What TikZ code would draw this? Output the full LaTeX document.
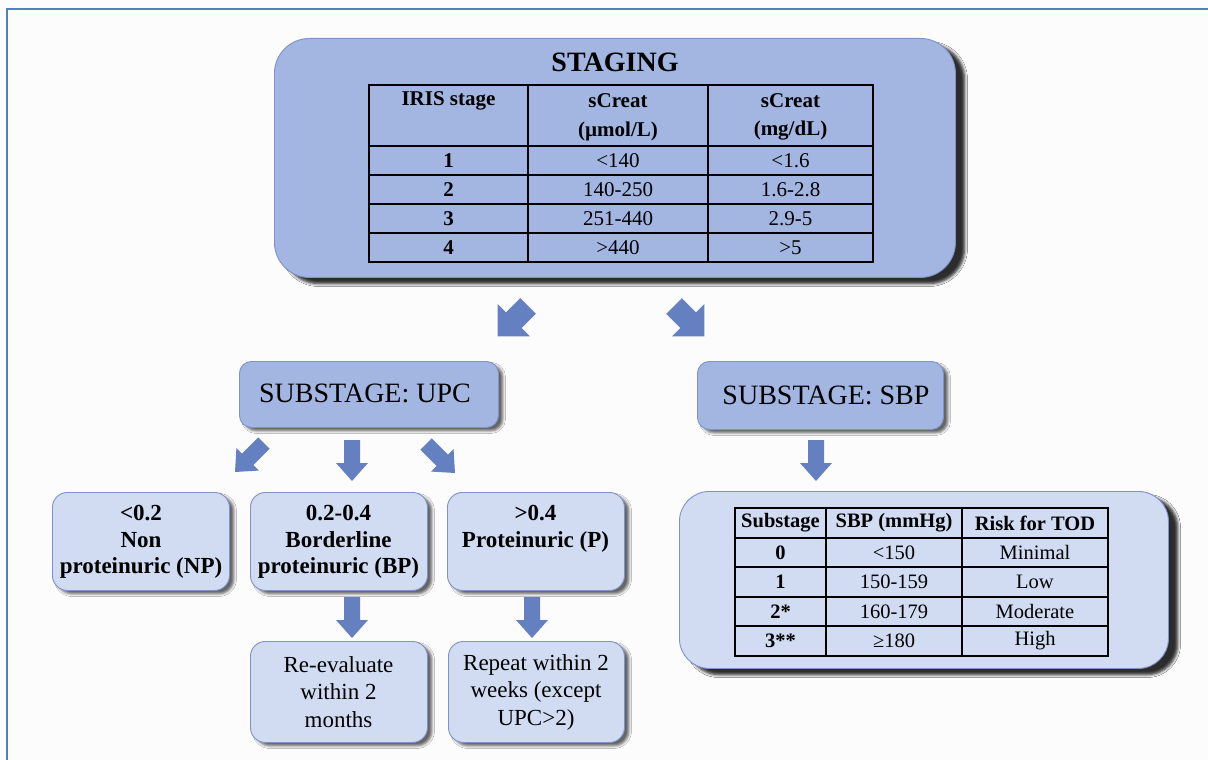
\documentclass[tikz,border=0pt]{standalone}
\usepackage{fontspec}
\setmainfont{Liberation Serif}
\usetikzlibrary{shadows.blur}

\definecolor{stagefill}{HTML}{A3B5E1}
\definecolor{lightfill}{HTML}{D1DCF3}
\definecolor{boxline}{HTML}{7D93C9}
\definecolor{arrowfill}{HTML}{6580C1}
\definecolor{framecol}{HTML}{4F81BD}
\definecolor{pagebg}{HTML}{FCFCFC}

\newcommand{\fsz}[2]{\fontsize{#1}{#2}\selectfont}

\tikzset{
  softshadow/.style={blur shadow={shadow xshift=4.5pt, shadow yshift=-3.5pt,
      shadow blur radius=2.5pt, shadow opacity=60}},
  bigshadow/.style={blur shadow={shadow xshift=9pt, shadow yshift=-6pt,
      shadow blur radius=3pt, shadow opacity=58}},
  darkbox/.style={draw=boxline, line width=0.9pt, fill=stagefill, softshadow,
      anchor=north west, inner sep=0pt},
  lightbox/.style={draw=boxline, line width=0.9pt, fill=lightfill, softshadow,
      anchor=north west, inner sep=0pt},
  gridline/.style={line width=1.8pt, black},
  cellA/.style={inner sep=0pt, font=\fsz{21}{25}},
  cellAb/.style={inner sep=0pt, font=\fsz{21}{25}\bfseries},
  cellB/.style={inner sep=0pt, font=\fsz{20.5}{24}},
  cellBb/.style={inner sep=0pt, font=\fsz{20.5}{24}\bfseries},
  boxtext/.style={inner sep=0pt, align=center, font=\fsz{23}{27.5}},
  boxtextb/.style={inner sep=0pt, align=center, font=\fsz{23}{26.5}\bfseries},
  headtext/.style={inner sep=0pt, font=\fsz{28}{32}},
  thin arrow/.pic={\fill[arrowfill] (0,-8) -- (23,-8) -- (23,-16) -- (41,0)
      -- (23,16) -- (23,8) -- (0,8) -- cycle;},
  thick arrow/.pic={\fill[arrowfill] (0,-11) -- (20,-11) -- (20,-23) -- (43,0)
      -- (20,23) -- (20,11) -- (0,11) -- cycle;}
}

\begin{document}
\begin{tikzpicture}[x=1pt, y=-1pt]
\useasboundingbox (0,0) rectangle (1208,760);
\fill[pagebg] (0,0) rectangle (1208,760);
\draw[framecol, line width=2.2pt] (7,760) -- (7,9) -- (1208,9);

% ---------- staging ----------
\node[darkbox, bigshadow, rounded corners=35pt, minimum width=681pt, minimum height=239pt]
  (staging) at (274,38) {};
\node[headtext, font=\fsz{28}{32}\bfseries] (stagingtitle) at (615,62) {STAGING};

\draw[gridline] (369,85) rectangle (873,262);
\draw[gridline] (528,85) -- (528,262) (708,85) -- (708,262);
\foreach \yy in {146,175,204,233} \draw[gridline] (369,\yy) -- (873,\yy);

\node[cellAb] (hA) at (448.5,101) {IRIS stage};
\node[cellAb] (hB) at (618,101) {sCreat};
\node[cellAb] (hBu) at (618,131) {(µmol/L)};
\node[cellAb] (hC) at (790.5,101) {sCreat};
\node[cellAb] (hCu) at (790.5,131) {(mg/dL)};

\node[cellAb] (s1) at (448.5,160.5) {1};
\node[cellA] (s1a) at (618,160.5) {<140};
\node[cellA] (s1b) at (790.5,160.5) {<1.6};
\node[cellAb] (s2) at (448.5,189.5) {2};
\node[cellA] (s2a) at (618,189.5) {140-250};
\node[cellA] (s2b) at (790.5,189.5) {1.6-2.8};
\node[cellAb] (s3) at (448.5,218.5) {3};
\node[cellA] (s3a) at (618,218.5) {251-440};
\node[cellA] (s3b) at (790.5,218.5) {2.9-5};
\node[cellAb] (s4) at (448.5,247.5) {4};
\node[cellA] (s4a) at (618,247.5) {>440};
\node[cellA] (s4b) at (790.5,247.5) {>5};

\pic[rotate=-135] at (528,306) {thick arrow};
\pic[rotate=-45] at (674,306) {thick arrow};

% ---------- substages ----------
\node[darkbox, rounded corners=12pt, minimum width=259pt, minimum height=66pt]
  (upc) at (239,361) {};
\node[headtext] (upctext) at (365,393) {SUBSTAGE: UPC};
\node[darkbox, rounded corners=12pt, minimum width=246pt, minimum height=68pt]
  (sbp) at (697,361) {};
\node[headtext] (sbptext) at (826,395) {SUBSTAGE: SBP};

\pic[rotate=-135] at (264,443) {thin arrow};
\pic[rotate=-90] at (352,440) {thin arrow};
\pic[rotate=-45] at (426,444) {thin arrow};
\pic[rotate=-90] at (816,440) {thin arrow};

% ---------- UPC categories ----------
\node[lightbox, rounded corners=15pt, minimum width=177pt, minimum height=98pt]
  (np) at (52,492) {};
\node[boxtextb] (nptext) at (141,542) {<0.2\\Non\\proteinuric (NP)};
\node[lightbox, rounded corners=15pt, minimum width=177pt, minimum height=98pt]
  (bp) at (250,492) {};
\node[boxtextb] (bptext) at (338.5,542) {0.2-0.4\\Borderline\\proteinuric (BP)};
\node[lightbox, rounded corners=15pt, minimum width=177pt, minimum height=98pt]
  (pr) at (447,492) {};
\node[boxtextb] (prtext) at (535.5,529) {>0.4\\Proteinuric (P)};

\pic[rotate=-90] at (352,597) {thin arrow};
\pic[rotate=-90] at (532,597) {thin arrow};

\node[lightbox, rounded corners=15pt, minimum width=177pt, minimum height=101pt]
  (bpnext) at (250,641) {};
\node[boxtext] (bpnexttext) at (338.5,692) {Re-evaluate\\within 2\\months};
\node[lightbox, rounded corners=15pt, minimum width=176pt, minimum height=101pt]
  (prnext) at (448,641) {};
\node[boxtext] (prnexttext) at (536,692) {Repeat within 2\\weeks (except\\UPC>2)};

% ---------- SBP table ----------
\node[lightbox, bigshadow, rounded corners=30pt, minimum width=489pt, minimum height=177pt]
  (sbptab) at (679,491) {};
\draw[gridline] (735,508) rectangle (1108,656);
\draw[gridline] (826,508) -- (826,656) (962,508) -- (962,656);
\foreach \yy in {538,567,597,626} \draw[gridline] (735,\yy) -- (1108,\yy);

\node[cellBb] (tA) at (780.5,523) {Substage};
\node[cellBb] (tB) at (894,523) {SBP (mmHg)};
\node[cellBb] (tC) at (1035,523) {Risk for TOD};
\node[cellBb] (r0) at (780.5,552.5) {0};
\node[cellB] (r0a) at (894,552.5) {<150};
\node[cellB] (r0b) at (1035,552.5) {Minimal};
\node[cellBb] (r1) at (780.5,582) {1};
\node[cellB] (r1a) at (894,582) {150-159};
\node[cellB] (r1b) at (1035,582) {Low};
\node[cellBb] (r2) at (780.5,611.5) {2*};
\node[cellB] (r2a) at (894,611.5) {160-179};
\node[cellB] (r2b) at (1035,611.5) {Moderate};
\node[cellBb] (r3) at (780.5,641) {3**};
\node[cellB] (r3a) at (894,641) {≥180};
\node[cellB] (r3b) at (1035,641) {High};
\end{tikzpicture}
\end{document}
